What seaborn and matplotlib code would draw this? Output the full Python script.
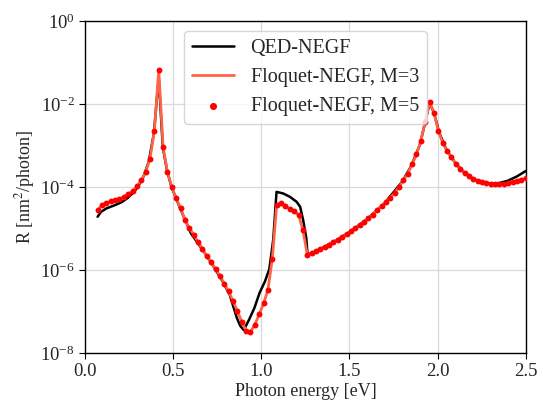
import numpy as np
import pandas as pd
import matplotlib
matplotlib.use("Agg")
import matplotlib.pyplot as plt
import seaborn as sns

# Floquet-NEGF photon energies (eV)
floquet_energy = [
    0.0700, 0.0948, 0.1196, 0.1444, 0.1692, 0.1940, 0.2188, 0.2436, 0.2684, 0.2932,
    0.3180, 0.3428, 0.3676, 0.3924, 0.4172, 0.4420, 0.4668, 0.4916, 0.5164, 0.5412,
    0.5660, 0.5908, 0.6156, 0.6404, 0.6652, 0.6900, 0.7148, 0.7396, 0.7644, 0.7892,
    0.8140, 0.8388, 0.8636, 0.8884, 0.9132, 0.9380, 0.9628, 0.9876, 1.0124, 1.0372,
    1.0620, 1.0868, 1.1116, 1.1364, 1.1612, 1.1860, 1.2108, 1.2356, 1.2604, 1.2852,
    1.3100, 1.3348, 1.3596, 1.3844, 1.4092, 1.4340, 1.4588, 1.4836, 1.5084, 1.5332,
    1.5580, 1.5828, 1.6076, 1.6324, 1.6572, 1.6820, 1.7068, 1.7316, 1.7564, 1.7812,
    1.8060, 1.8308, 1.8556, 1.8804, 1.9052, 1.9300, 1.9548, 1.9796, 2.0044, 2.0292,
    2.0540, 2.0788, 2.1036, 2.1284, 2.1532, 2.1780, 2.2028, 2.2276, 2.2524, 2.2772,
    2.3020, 2.3268, 2.3516, 2.3764, 2.4012, 2.4260, 2.4508, 2.4756, 2.5000,
]
# log10 of R [nm^2/photon], M=5
floquet_m5_log = [
    -4.56, -4.44, -4.385, -4.35, -4.32, -4.29, -4.24, -4.18, -4.10, -3.99,
    -3.84, -3.64, -3.32, -2.65, -1.19, -3.04, -3.64, -4.01, -4.28, -4.51,
    -4.80, -4.99, -5.15, -5.33, -5.49, -5.67, -5.81, -5.98, -6.14, -6.33,
    -6.52, -6.75, -6.99, -7.25, -7.47, -7.49, -7.32, -7.07, -6.81, -6.48,
    -5.73, -4.44, -4.38, -4.46, -4.53, -4.59, -4.67, -5.04, -5.63, -5.60,
    -5.55, -5.50, -5.44, -5.39, -5.32, -5.27, -5.20, -5.14, -5.07, -5.00,
    -4.92, -4.84, -4.76, -4.67, -4.55, -4.46, -4.36, -4.26, -4.14, -4.00,
    -3.84, -3.68, -3.46, -3.22, -2.89, -2.43, -1.95, -2.22, -2.65, -2.94,
    -3.13, -3.29, -3.44, -3.56, -3.66, -3.74, -3.81, -3.86, -3.89, -3.91,
    -3.93, -3.93, -3.93, -3.93, -3.91, -3.89, -3.86, -3.83, -3.79,
]
# M=3 line lies on top of the M=5 points
floquet_m3_log = list(floquet_m5_log)

# QED-NEGF reference curve
qed_energy = [
    0.07, 0.09, 0.12, 0.15, 0.18, 0.21, 0.24, 0.27, 0.30, 0.33,
    0.36, 0.39, 0.417, 0.44, 0.465, 0.49, 0.54, 0.60, 0.66, 0.72,
    0.78, 0.82, 0.86, 0.88, 0.90, 0.93, 0.96, 0.99, 1.02, 1.045,
    1.067, 1.086, 1.124, 1.162, 1.20, 1.22, 1.237, 1.255, 1.262, 1.30,
    1.40, 1.50, 1.60, 1.70, 1.80, 1.85, 1.90, 1.955, 1.98, 2.01,
    2.05, 2.10, 2.15, 2.20, 2.25, 2.30, 2.35, 2.40, 2.45, 2.50,
]
qed_log = [
    -4.72, -4.60, -4.52, -4.47, -4.42, -4.36, -4.27, -4.15, -3.99, -3.76,
    -3.40, -2.70, -1.35, -3.04, -3.62, -4.01, -4.53, -5.12, -5.48, -5.86,
    -6.28, -6.60, -7.15, -7.35, -7.45, -7.20, -6.92, -6.55, -6.28, -5.98,
    -5.28, -4.12, -4.16, -4.24, -4.36, -4.48, -4.80, -5.24, -5.62, -5.57,
    -5.35, -5.09, -4.78, -4.39, -3.87, -3.50, -2.98, -1.98, -2.22, -2.70,
    -3.10, -3.42, -3.65, -3.80, -3.88, -3.92, -3.91, -3.85, -3.75, -3.62,
]

qed = pd.DataFrame({"E": qed_energy, "R": np.power(10.0, qed_log)})
m3 = pd.DataFrame({"E": floquet_energy, "R": np.power(10.0, floquet_m3_log)})
m5 = pd.DataFrame({"E": floquet_energy, "R": np.power(10.0, floquet_m5_log)})

sns.set_style("ticks")
plt.rcParams['font.family'] = ['Liberation Serif', 'DejaVu Serif']
plt.rcParams['mathtext.fontset'] = 'stix'

fig = plt.figure(figsize=(5.43, 4.01), dpi=100)
ax = fig.add_axes([0.157, 0.12, 0.811, 0.828])

sns.lineplot(data=qed, x="E", y="R", color="black", lw=1.8, estimator=None,
             label="QED-NEGF", ax=ax)
sns.lineplot(data=m3, x="E", y="R", color="#ff6347", lw=2.0, estimator=None,
             label="Floquet-NEGF, M=3", ax=ax)
sns.scatterplot(data=m5, x="E", y="R", color="red", s=18, linewidth=0,
                label="Floquet-NEGF, M=5", ax=ax, zorder=3)

ax.set_yscale("log")
ax.set_xlim(0, 2.5)
ax.set_ylim(1e-8, 1e0)
ax.set_xticks([0.0, 0.5, 1.0, 1.5, 2.0, 2.5])
ax.set_yticks([1e-8, 1e-6, 1e-4, 1e-2, 1e0])
ax.yaxis.set_minor_locator(matplotlib.ticker.NullLocator())
ax.grid(True, color="0.85", lw=0.9)
ax.tick_params(labelsize=13.5, direction="out", length=4, color="black")
for s in ax.spines.values():
    s.set_color("black")
    s.set_linewidth(1.0)

ax.set_xlabel("Photon energy [eV]", fontsize=13, labelpad=2)
ax.set_ylabel("R [nm$^2$/photon]", fontsize=13, labelpad=2)

ax.legend(loc="upper center", fontsize=14.5, frameon=True, framealpha=0.8,
          edgecolor="0.8", handlelength=2.1, borderaxespad=0.5, markerscale=1.2)

fig.savefig("out.png", dpi=100)
